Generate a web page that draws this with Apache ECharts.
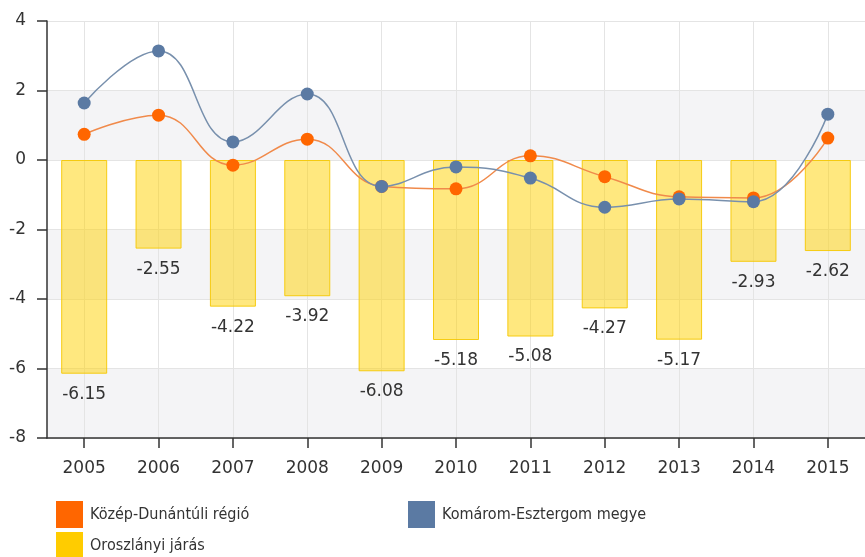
<!DOCTYPE html>
<html>
<head>
<meta charset="utf-8">
<script src="https://cdn.jsdelivr.net/npm/echarts@6/dist/echarts.min.js"></script>
<style>
html,body{margin:0;padding:0;background:#fff;}
#chart{width:865px;height:557px;}
</style>
</head>
<body>
<div id="chart"></div>
<script>
const years = ['2005','2006','2007','2008','2009','2010','2011','2012','2013','2014','2015'];
const kozepDunantuli = [0.74, 1.29, -0.15, 0.60, -0.76, -0.83, 0.12, -0.48, -1.06, -1.09, 0.63];
const komaromEsztergom = [1.64, 3.14, 0.52, 1.90, -0.76, -0.20, -0.52, -1.36, -1.12, -1.20, 1.32];
const oroszlanyi = [-6.15, -2.55, -4.22, -3.92, -6.08, -5.18, -5.08, -4.27, -5.17, -2.93, -2.62];
const names = ['Közép-Dunántúli régió', 'Komárom-Esztergom megye', 'Oroszlányi járás'];
const yTicks = [-8, -6, -4, -2, 0, 2, 4];

const axisFont = 'DejaVu Sans, Verdana, sans-serif';
const legendFont = "'DejaVu Sans Condensed', 'Liberation Sans', Arial, sans-serif";

const chart = echarts.init(document.getElementById('chart'), null, {renderer: 'canvas'});

function legendAt(left, top, item) {
  return {
    left: left, top: top, orient: 'horizontal', padding: 0,
    icon: 'rect', itemWidth: 27, itemHeight: 27, itemGap: 0,
    selectedMode: false,
    textStyle: {fontFamily: legendFont, fontSize: 16, color: '#333', padding: [0, 0, 0, 2]},
    data: [item]
  };
}

chart.setOption({
  animation: false,
  backgroundColor: '#fff',
  grid: {left: 47, right: -9, top: 21, bottom: 119, containLabel: false},
  legend: [
    legendAt(56, 501, {name: names[0]}),
    legendAt(408, 501, {name: names[1]}),
    legendAt(56, 532, {name: names[2], itemStyle: {color: '#ffcc00', borderWidth: 0}})
  ],
  xAxis: {
    type: 'category',
    data: years,
    boundaryGap: true,
    axisLine: {show: true, onZero: false, lineStyle: {color: '#333', width: 1.5}},
    axisTick: {show: true, alignWithLabel: true, length: 10, lineStyle: {color: '#333', width: 1.5}},
    axisLabel: {fontFamily: axisFont, fontSize: 17, color: '#333', margin: 22},
    splitLine: {show: true, alignWithLabel: true, lineStyle: {color: '#e4e4e4', width: 1}}
  },
  yAxis: {
    type: 'value',
    min: yTicks[0], max: yTicks[yTicks.length - 1], interval: 2,
    axisLine: {show: true, lineStyle: {color: '#333', width: 1.5}},
    axisTick: {show: true, length: 10, lineStyle: {color: '#333', width: 1.5}},
    axisLabel: {fontFamily: axisFont, fontSize: 17, color: '#333', margin: 21},
    splitLine: {show: true, lineStyle: {color: '#e4e4e4', width: 1}},
    splitArea: {show: true, areaStyle: {color: ['#f4f4f6', '#ffffff']}}
  },
  series: [
    {
      name: names[2],
      type: 'bar',
      data: oroszlanyi,
      barWidth: 46,
      itemStyle: {color: 'rgba(255,210,0,0.5)', borderColor: 'rgba(245,200,0,0.9)', borderWidth: 1},
      label: {
        show: true, position: 'bottom', distance: 12,
        fontFamily: axisFont, fontSize: 17, color: '#333',
        formatter: p => p.value.toFixed(2)
      },
      z: 1
    },
    {
      name: names[0],
      type: 'line',
      data: kozepDunantuli,
      smooth: 0.45,
      symbol: 'circle', symbolSize: 13,
      itemStyle: {color: '#ff6600'},
      lineStyle: {color: '#f08a4b', width: 1.5},
      z: 3
    },
    {
      name: names[1],
      type: 'line',
      data: komaromEsztergom,
      smooth: 0.45,
      symbol: 'circle', symbolSize: 13,
      itemStyle: {color: '#5b7aa3'},
      lineStyle: {color: '#7890ad', width: 1.5},
      z: 4
    }
  ]
});
</script>
</body>
</html>
